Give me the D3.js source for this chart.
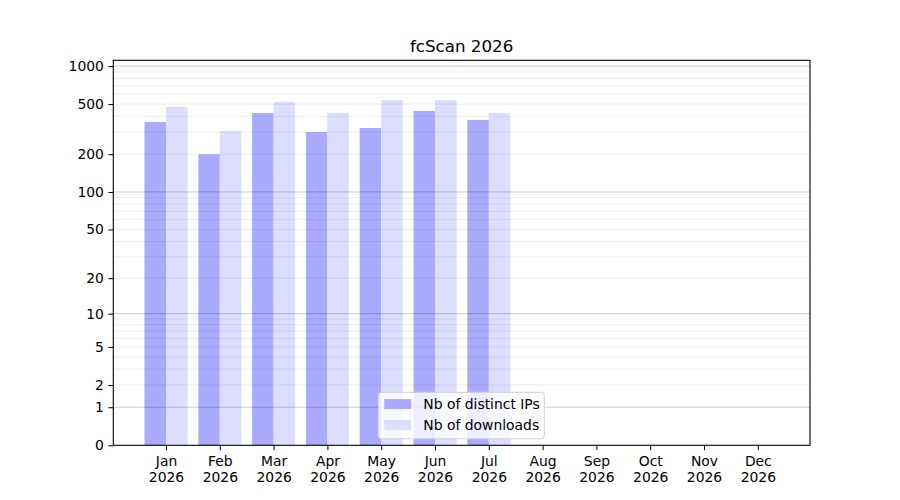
<!DOCTYPE html>
<html>
<head>
<meta charset="utf-8">
<script src="https://cdn.jsdelivr.net/npm/d3@7"></script>
<style>
  body { margin: 0; background: #fff; }
  text { font-family: "DejaVu Sans", sans-serif; fill: #000; }
</style>
</head>
<body>
<div id="chart"></div>
<script>
// Données
const months = ["Jan", "Feb", "Mar", "Apr", "May", "Jun", "Jul", "Aug", "Sep", "Oct", "Nov", "Dec"];
const year = "2026";
const distinctIPs = [361, 200, 425, 300, 323, 441, 374];
const downloads = [475, 306, 519, 425, 538, 538, 425];
const yTicks = [0, 1, 2, 5, 10, 20, 50, 100, 200, 500, 1000];
const majorGrid = [1, 10, 100, 1000];
const minorGrid = [2, 3, 4, 5, 6, 7, 8, 9, 20, 30, 40, 50, 60, 70, 80, 90, 200, 300, 400, 500, 600, 700, 800, 900];

const width = 900, height = 500;
const plotLeft = 113.3, plotRight = 810, plotTop = 60.3, plotBottom = 445.3;

const svg = d3.select("#chart")
    .append("svg")
    .attr("width", width)
    .attr("height", height);

// Échelles
const x = d3.scaleLinear().domain([-0.98, 11.97]).range([plotLeft, plotRight]);
const y = d3.scaleSymlog().constant(1).domain([0, 1111]).range([plotBottom, plotTop]);
const barW = (x(1) - x(0)) * 0.4;

// Barres
svg.append("g")
    .selectAll("rect")
    .data(distinctIPs)
    .enter()
    .append("rect")
    .attr("x", (d, i) => x(i) - barW)
    .attr("y", d => y(d))
    .attr("width", barW)
    .attr("height", d => plotBottom - y(d))
    .attr("fill", "#aaaaff");

svg.append("g")
    .selectAll("rect")
    .data(downloads)
    .enter()
    .append("rect")
    .attr("x", (d, i) => x(i))
    .attr("y", d => y(d))
    .attr("width", barW)
    .attr("height", d => plotBottom - y(d))
    .attr("fill", "#ddddff");

// Grille
svg.append("g")
    .selectAll("line")
    .data(minorGrid)
    .enter()
    .append("line")
    .attr("x1", plotLeft).attr("x2", plotRight)
    .attr("y1", d => y(d)).attr("y2", d => y(d))
    .attr("stroke", "#000").attr("stroke-opacity", 0.07).attr("stroke-width", 1);

svg.append("g")
    .selectAll("line")
    .data(majorGrid)
    .enter()
    .append("line")
    .attr("x1", plotLeft).attr("x2", plotRight)
    .attr("y1", d => y(d)).attr("y2", d => y(d))
    .attr("stroke", "#000").attr("stroke-opacity", 0.2).attr("stroke-width", 1);

// Axes
const yAxis = d3.axisLeft(y).tickValues(yTicks).tickFormat(d3.format("d")).tickSizeOuter(0).tickSize(4.9).tickPadding(4.5);
const gy = svg.append("g").attr("transform", `translate(${plotLeft},0)`).call(yAxis);
gy.select(".domain").remove();
gy.selectAll("text").style("font-size", "13.9px").style("font-family", "DejaVu Sans");

const xAxis = d3.axisBottom(x).tickValues(d3.range(12)).tickFormat(i => months[i]).tickSizeOuter(0).tickSize(4.9).tickPadding(5.5);
const gx = svg.append("g").attr("transform", `translate(0,${plotBottom})`).call(xAxis);
gx.select(".domain").remove();
gx.selectAll("text")
    .style("font-size", "13.9px").style("font-family", "DejaVu Sans")
    .each(function () {
        d3.select(this).append("tspan").attr("x", 0).attr("dy", "1.17em").text(year);
    });

svg.append("rect")
    .attr("x", plotLeft).attr("y", plotTop)
    .attr("width", plotRight - plotLeft).attr("height", plotBottom - plotTop)
    .attr("fill", "none").attr("stroke", "#000").attr("stroke-width", 1.1);

// Titre
svg.append("text")
    .attr("x", (plotLeft + plotRight) / 2).attr("y", 52)
    .attr("text-anchor", "middle")
    .style("font-size", "16.7px")
    .text("fcScan 2026");

// Légende
const legend = svg.append("g").attr("transform", "translate(378.3,392.3)");
legend.append("rect")
    .attr("width", 166).attr("height", 46.5).attr("rx", 3)
    .attr("fill", "#fff").attr("fill-opacity", 0.8)
    .attr("stroke", "#d0d0d0").attr("stroke-width", 1);
const items = [["Nb of distinct IPs", "#aaaaff"], ["Nb of downloads", "#ddddff"]];
items.forEach(([label, color], i) => {
    legend.append("rect")
        .attr("x", 6).attr("y", 6.8 + i * 21)
        .attr("width", 27).attr("height", 10)
        .attr("fill", color);
    legend.append("text")
        .attr("x", 45).attr("y", 16.8 + i * 21)
        .style("font-size", "13.9px")
        .text(label);
});
</script>
</body>
</html>
